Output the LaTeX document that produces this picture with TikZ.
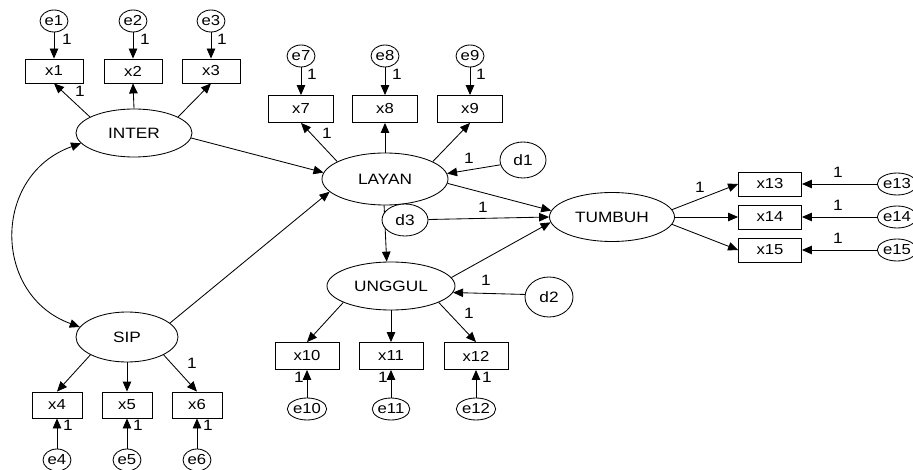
\documentclass[tikz,border=0pt]{standalone}
\usepackage{fontspec}
\setmainfont{Liberation Sans}[FakeStretch=1.15]
\usetikzlibrary{arrows.meta,shapes.geometric}
\begin{document}
\begin{tikzpicture}[x=1pt,y=-1pt,
  line width=0.85pt,
  lat/.style 2 args={draw, ellipse, inner sep=0pt, minimum width=#1, minimum height=#2,
    font=\fontsize{15}{15}\selectfont},
  obs/.style 2 args={draw, rectangle, inner sep=0pt, minimum width=#1, minimum height=#2,
    font=\fontsize{14.5}{14.5}\selectfont},
  err/.style={draw, ellipse, inner sep=0pt, minimum width=28pt, minimum height=22pt,
    font=\fontsize{14.5}{14.5}\selectfont},
  dist/.style 2 args={draw, ellipse, inner sep=0pt, minimum width=#1, minimum height=#2,
    font=\fontsize{15}{15}\selectfont},
  one/.style={inner sep=0pt, font=\fontsize{15}{15}\selectfont},
  pth/.style={-{Triangle[length=10pt,width=8.5pt]}},
  cov/.style={{Triangle[length=10pt,width=8.5pt]}-{Triangle[length=10pt,width=8.5pt]}}]
\useasboundingbox (0,0) rectangle (913,470);

% latent variables
\node[lat={116pt}{48pt}] (INTER) at (134,133) {INTER};
\node[lat={102pt}{50pt}] (SIP) at (127,337) {SIP};
\node[lat={126pt}{52pt}] (LAYAN) at (385,179) {LAYAN};
\node[lat={128pt}{48pt}] (UNGGUL) at (391,286) {UNGGUL};
\node[lat={125pt}{49pt}] (TUMBUH) at (612,217) {TUMBUH};

% disturbances d1 and d2
\node[dist={46pt}{36pt}] (d1) at (523,160) {d1};
\node[dist={48pt}{40pt}] (d2) at (549,297) {d2};

% indicators of INTER
\foreach \i/\x in {1/54,2/133,3/211}{
  \node[obs={58pt}{24pt}] (x\i) at (\x,71) {x\i};
  \node[err] (e\i) at (\x,21) {e\i};
}
% indicators of SIP
\foreach \i/\x in {4/57,5/127,6/197}{
  \node[obs={50pt}{26pt}] (x\i) at (\x,405) {x\i};
  \node[err] (e\i) at (\x,460) {e\i};
}
% indicators of LAYAN
\foreach \i/\x in {7/301,8/385,9/470}{
  \node[obs={65pt}{27pt}] (x\i) at (\x,109) {x\i};
  \node[err] (e\i) at (\x,56) {e\i};
}
% indicators of UNGGUL
\foreach \i/\x in {10/307,11/391,12/476}{
  \node[obs={64pt}{27pt}] (x\i) at (\x,356) {x\i};
  \node[err] (e\i) at (\x,409) {e\i};
}
% indicators of TUMBUH
\foreach \i/\y in {13/184,14/217,15/250}{
  \node[obs={63pt}{24pt}] (x\i) at (770,\y) {x\i};
  \node[err, minimum width=26pt] (e\i) at (897,\y) {e\i};
}

% error terms to indicators
\foreach \i in {1,...,15}{
  \draw[pth] (e\i) -- (x\i);
}

% loadings
\draw[pth] (INTER.160) -- (x1.south);
\draw[pth] (INTER.north) -- (x2.south);
\draw[pth] (INTER.20) -- (x3.south);
\draw[pth] (SIP.206) -- (x4.north);
\draw[pth] (SIP.south) -- (x5.north);
\draw[pth] (SIP.334) -- (x6.north);
\draw[pth] (LAYAN.160) -- (x7.south);
\draw[pth] (LAYAN.north) -- (x8.south);
\draw[pth] (LAYAN.20) -- (x9.south);
\draw[pth] (UNGGUL.199) -- (x10.north);
\draw[pth] (UNGGUL.south) -- (x11.north);
\draw[pth] (UNGGUL.341) -- (x12.north);
\draw[pth] (TUMBUH.7) -- (x13.west);
\draw[pth] (TUMBUH.east) -- (x14.west);
\draw[pth] (TUMBUH.353) -- (x15.west);

% structural paths
\draw[pth] (INTER.355) -- (LAYAN.174);
\draw[pth] (SIP.18) -- (LAYAN.193);
\draw[pth] (LAYAN.356) -- (TUMBUH.174);
\draw[pth] (LAYAN.268) -- (UNGGUL.100);
\draw[pth] (UNGGUL.8) -- (TUMBUH.185);
\draw[pth] (d1.192) -- (LAYAN.5);
\draw[pth] (d2.174) -- (UNGGUL.354);

% disturbance d3 sits over the lower rim of LAYAN
\node[dist={46pt}{32pt}, fill=white] (d3) at (405,220) {d3};
\draw[pth] (d3) -- (TUMBUH.180);

% covariance between the exogenous factors
\draw[cov] (INTER.191) .. controls (-8,175) and (-8,295) .. (SIP.168);

% fixed parameters
\foreach \p in {(67,39),(145,39),(222,39),(80,91),
  (312,74),(397,74),(481,74),(327,133),(469,158),
  (483,207),(486,280),(469,313),
  (299,377),(383,377),(487,377),
  (192,363),(68,425),(138,425),(208,425),
  (700,187),(838,172),(838,205),(838,238)}{
  \node[one] at \p {1};
}
\end{tikzpicture}
\end{document}
